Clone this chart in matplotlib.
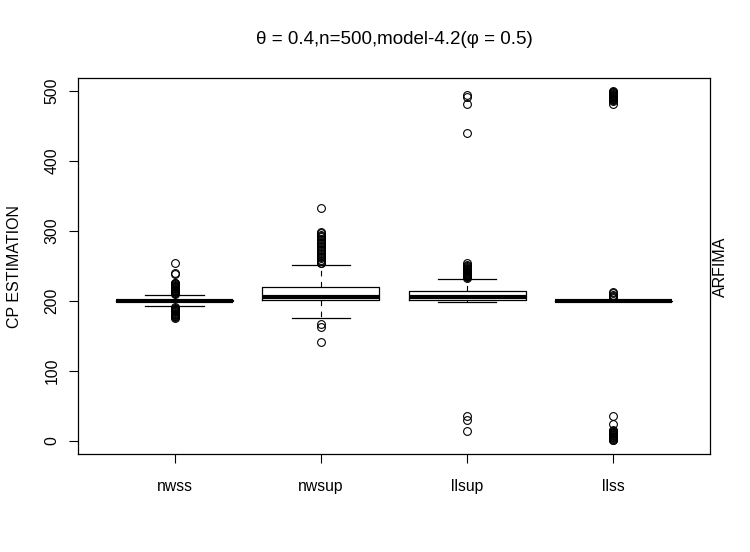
import matplotlib
matplotlib.use("Agg")
import matplotlib.pyplot as plt

plt.rcParams['font.family'] = ['Liberation Sans', 'DejaVu Sans']

# ---- data ----
categories = ["nwss", "nwsup", "llsup", "llss"]

q1_vals = [199.5, 201.0, 201.0, 200.0]
median_vals = [200.5, 205.5, 205.5, 200.0]
q3_vals = [201.5, 220.5, 214.0, 200.0]
whislo_vals = [193.0, 175.0, 198.5, 200.0]
whishi_vals = [209.0, 251.0, 231.0, 200.0]

fliers_nwss = [254, 240, 239, 226, 225, 224, 223, 222, 221, 220, 219, 218, 217,
               216, 215, 214, 213, 212, 211, 210,
               191, 190, 189, 188, 187, 186, 185, 184, 183, 182, 181, 180,
               179, 178, 177, 176]
fliers_nwsup = [333, 299, 297, 295, 293, 291, 289, 287, 285, 283, 281, 279, 277,
                275, 273, 271, 269, 267, 265, 263, 261, 259, 257, 255, 254,
                167, 163, 141]
fliers_llsup = [494, 492, 482, 440,
                254, 252, 250, 248, 247, 246, 245, 244, 243, 242, 241, 240,
                239, 238, 237, 236, 235, 234, 233,
                35, 30, 14]
fliers_llss = [500, 499, 498, 497, 496, 495, 494, 493, 492, 491, 490, 489,
               488, 487, 486, 482,
               213, 211, 209, 207, 205, 204,
               35, 24, 15, 14, 13, 12, 11, 10, 9, 8, 7, 6, 5, 4, 3, 2, 1]
fliers_all = [fliers_nwss, fliers_nwsup, fliers_llsup, fliers_llss]

y_ticks = [0, 100, 200, 300, 400, 500]
title_text = "θ = 0.4,n=500,model-4.2(φ = 0.5)"
y_label = "CP ESTIMATION"
right_label = "ARFIMA"

# ---- figure ----
W, H = 750, 552
fig = plt.figure(figsize=(W / 100, H / 100), dpi=100)
ax = fig.add_axes([78 / W, 1 - 454 / H, 632 / W, 376 / H])

stats = []
for i, name in enumerate(categories):
    stats.append(dict(label=name, med=median_vals[i], q1=q1_vals[i], q3=q3_vals[i],
                      whislo=whislo_vals[i], whishi=whishi_vals[i],
                      fliers=fliers_all[i]))

ax.bxp(stats, positions=[1, 2, 3, 4], widths=0.8, capwidths=0.4,
       boxprops=dict(color='black', linewidth=0.9),
       medianprops=dict(color='black', linewidth=3.0, solid_capstyle='butt'),
       whiskerprops=dict(color='black', linewidth=0.8, linestyle=(0, (5, 5))),
       capprops=dict(color='black', linewidth=0.9),
       flierprops=dict(marker='o', markerfacecolor='none', markeredgecolor='black',
                       markersize=5.6, markeredgewidth=0.8, linestyle='none'))

ax.set_xlim(0.34, 4.66)
ax.set_ylim(-18.6, 518.6)
ax.set_yticks(y_ticks)
ax.set_yticklabels([str(t) for t in y_ticks])
ax.set_xticks([1, 2, 3, 4])
ax.set_xticklabels(categories)

for sp in ax.spines.values():
    sp.set_linewidth(0.9)
    sp.set_color('black')

ax.tick_params(axis='both', direction='out', length=6.2, width=0.8,
               labelsize=11.3, colors='black')
ax.tick_params(axis='x', pad=11.5)
ax.tick_params(axis='y', pad=7, labelrotation=90)
for lab in ax.get_yticklabels():
    lab.set_va('center')

fig.text(394 / W, 1 - 40 / H, title_text, ha='center', va='center', fontsize=13.5)
fig.text(15 / W, 1 - 267 / H, y_label, rotation=90, ha='center', va='center',
         fontsize=11.5)
fig.text(720 / W, 1 - 267 / H, right_label, rotation=90, ha='center', va='center',
         fontsize=11.5)

fig.savefig("out.png", dpi=100, facecolor='white')
